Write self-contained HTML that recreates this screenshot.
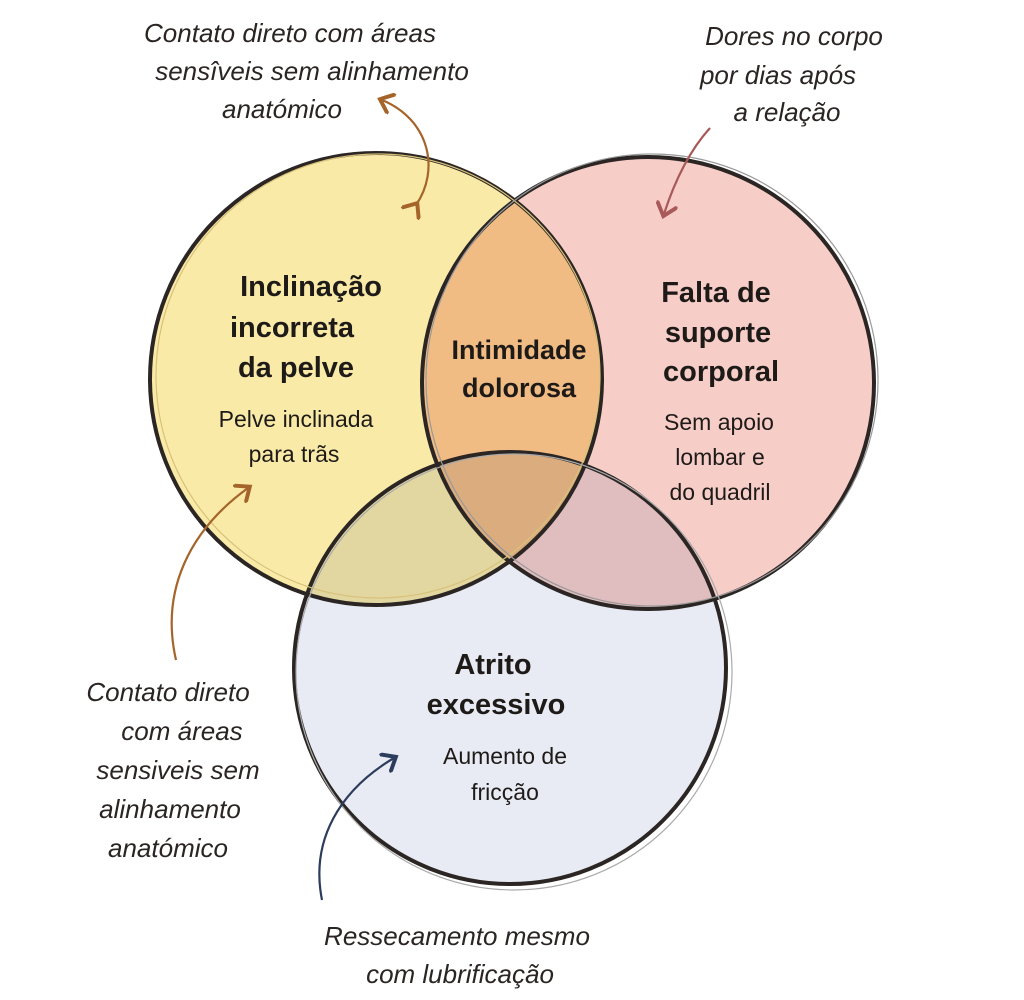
<!DOCTYPE html>
<html><head><meta charset="utf-8"><style>
html,body{margin:0;padding:0;background:#fff;}
svg{display:block}
.t{font-family:"Liberation Sans",sans-serif;fill:#1e1a18;text-anchor:middle}
.b{font-size:29px;font-weight:bold}
.s{font-size:23px}
.a{font-family:"Liberation Sans",sans-serif;font-style:italic;font-size:26px;fill:#2a2422;text-anchor:middle}
</style></head><body>
<svg width="1024" height="1000" viewBox="0 0 1024 1000">
<defs>
<marker id="m1" markerWidth="10" markerHeight="10" refX="5" refY="5" orient="auto"><path d="M0,0 L6,5 L0,10" fill="none" stroke="#a5642a" stroke-width="1.8"/></marker>
<marker id="m2" markerWidth="10" markerHeight="10" refX="5" refY="5" orient="auto"><path d="M0,0 L6,5 L0,10" fill="none" stroke="#a85a5a" stroke-width="1.8"/></marker>
<marker id="m3" markerWidth="10" markerHeight="10" refX="5" refY="5" orient="auto"><path d="M0,0 L6,5 L0,10" fill="none" stroke="#2c3c5c" stroke-width="1.8"/></marker>
</defs>
<g>
<circle cx="376" cy="379" r="226" fill="#f9eaa8" style="mix-blend-mode:multiply"/>
<circle cx="648" cy="383" r="226" fill="#f7cdc8" style="mix-blend-mode:multiply"/>
<circle cx="510" cy="668" r="216" fill="#e8ebf3" style="mix-blend-mode:multiply"/>
</g>
<circle cx="376" cy="379" r="226" fill="none" stroke="#2b2624" stroke-width="4"/>
<circle cx="648" cy="383" r="226" fill="none" stroke="#2b2624" stroke-width="4"/>
<circle cx="510" cy="668" r="216" fill="none" stroke="#2b2624" stroke-width="4"/>
<circle cx="378" cy="376" r="222" fill="none" stroke="#d8c27a" stroke-width="1.2"/>
<circle cx="652" cy="380" r="226" fill="none" stroke="#999" stroke-width="1.2"/>
<circle cx="514" cy="672" r="218" fill="none" stroke="#aaa" stroke-width="1.2"/>

<text class="t b" x="311" y="296">Inclinação</text>
<text class="t b" x="292" y="337">incorreta</text>
<text class="t b" x="296" y="377">da pelve</text>
<text class="t s" x="296" y="427">Pelve inclinada</text>
<text class="t s" x="294" y="462">para trãs</text>

<text class="t b" x="716" y="302">Falta de</text>
<text class="t b" x="718" y="342">suporte</text>
<text class="t b" x="721" y="381">corporal</text>
<text class="t s" x="719" y="430">Sem apoio</text>
<text class="t s" x="720" y="465">lombar e</text>
<text class="t s" x="720" y="500">do quadril</text>

<text class="t b" x="519" y="359" style="font-size:27px">Intimidade</text>
<text class="t b" x="519" y="397" style="font-size:27px">dolorosa</text>

<text class="t b" x="493" y="674">Atrito</text>
<text class="t b" x="496" y="714">excessivo</text>
<text class="t s" x="505" y="764">Aumento de</text>
<text class="t s" x="505" y="800">fricção</text>

<text class="a" x="290" y="42">Contato direto com áreas</text>
<text class="a" x="312" y="80">sensîveis sem alinhamento</text>
<text class="a" x="282" y="118">anatómico</text>
<text class="a" x="794" y="45">Dores no corpo</text>
<text class="a" x="778" y="84">por dias após</text>
<text class="a" x="787" y="121">a relação</text>
<text class="a" x="168" y="701">Contato direto</text>
<text class="a" x="182" y="740">com áreas</text>
<text class="a" x="178" y="779">sensiveis sem</text>
<text class="a" x="170" y="818">alinhamento</text>
<text class="a" x="168" y="857">anatómico</text>
<text class="a" x="457" y="945">Ressecamento mesmo</text>
<text class="a" x="460" y="983">com lubrificação</text>

<path d="M416,205 C440,170 430,120 382,100" fill="none" stroke="#a5642a" stroke-width="2.2" marker-end="url(#m1)" marker-start="url(#m1)"/>
<path d="M710,128 C690,150 675,180 664,214" fill="none" stroke="#a85a5a" stroke-width="2.2" marker-end="url(#m2)"/>
<path d="M176,660 C160,590 190,530 248,488" fill="none" stroke="#a5642a" stroke-width="2.2" marker-end="url(#m1)"/>
<path d="M322,900 C310,840 340,790 394,758" fill="none" stroke="#2c3c5c" stroke-width="2.2" marker-end="url(#m3)"/>
</svg>
</body></html>
